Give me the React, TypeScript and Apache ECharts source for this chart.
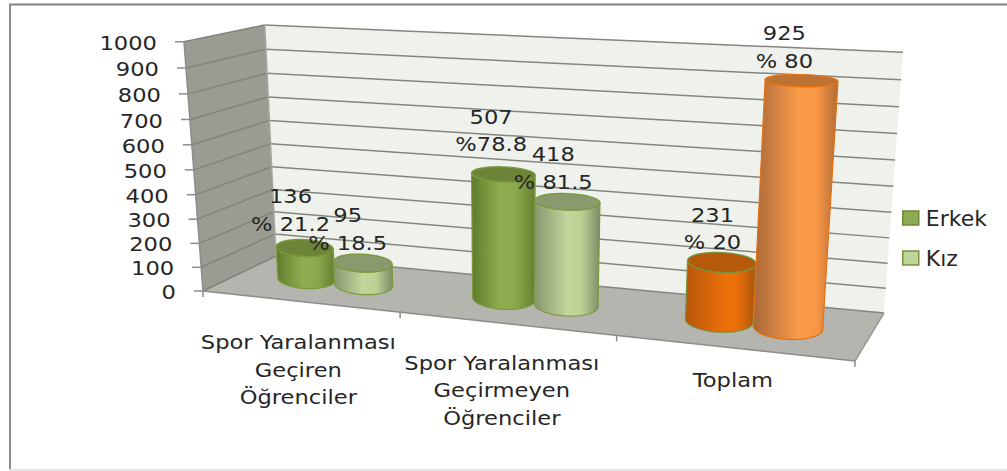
import React, { useEffect, useRef } from "react";
import * as echarts from "echarts";

const categories = ["Spor Yaralanması\nGeçiren\nÖğrenciler", "Spor Yaralanması\nGeçirmeyen\nÖğrenciler", "Toplam"];
const erkekValues = [136, 507, 231];
const kizValues = [95, 418, 925];
const erkekPercents = ["% 21.2", "%78.8", "% 20"];
const kizPercents = ["% 18.5", "% 81.5", "% 80"];
const yTicks = [0, 100, 200, 300, 400, 500, 600, 700, 800, 900, 1000];

// ---- styling / projection only ----
const W = 1007, H = 471;
const FONT = "DejaVu Sans";
const FS = 20;
const SX = 1.13;
const TEXT = "#262626";
const G = { left: 200, top: 40, width: 600, height: 250 };
const FL = [203, 291], FR = [855, 361], BR = [884, 313], BL = [276, 256];
const LEAN = { fl: -0.0763, fr: 0.0672, br: 0.0728, bl: -0.0488 };
const BAR_U = 0.05, RING_D = 0.25;
const LABEL_OFFSET: Record<string, number[][]> = {
  Erkek: [[-14, -4], [-12, -10], [-9, 0]],
  Kiz: [[-15, 0], [-14, 0], [-17, 0]],
};
const CAT_LABEL_DX = [-1, -4, 0];
const CAT_LABEL_DY = [41, 39, 32];
const grad = (c: string[][]) =>
  new echarts.graphic.LinearGradient(0, 0, 1, 0, c.map((x) => ({ offset: +x[0], color: x[1] })));
const STYLES: any = {
  greenDark: { body: [["0", "#5f7b2c"], ["0.45", "#8fae50"], ["0.7", "#8aa94d"], ["1", "#66802f"]], cap: "#6b8438", stroke: "#7a9a3e" },
  greenLight: { body: [["0", "#88976f"], ["0.5", "#c3d69b"], ["0.72", "#bcd094"], ["1", "#7e8c68"]], cap: "#8a9a6e", stroke: "#7a9a3e" },
  orangeDark: { body: [["0", "#b8560a"], ["0.6", "#ee7209"], ["0.75", "#e86e0a"], ["1", "#a8540f"]], cap: "#b45a0a", stroke: "#76923c" },
  orangeLight: { body: [["0", "#a8683a"], ["0.55", "#fb9c48"], ["0.75", "#f99745"], ["1", "#b06c38"]], cap: "#bb7233", stroke: "#e8700f" },
};
const BAR_STYLE: Record<string, string[]> = {
  Erkek: ["greenDark", "greenDark", "orangeDark"],
  Kiz: ["greenLight", "greenLight", "orangeLight"],
};

// floor homography from unit square (u along front, d into depth)
const dx1 = FR[0] - BR[0], dx2 = BL[0] - BR[0], sx = FL[0] - FR[0] + BR[0] - BL[0];
const dy1 = FR[1] - BR[1], dy2 = BL[1] - BR[1], sy = FL[1] - FR[1] + BR[1] - BL[1];
const den = dx1 * dy2 - dx2 * dy1;
const hg = (sx * dy2 - dx2 * sy) / den, hh = (dx1 * sy - sx * dy1) / den;
const warp = (u: number) => u + 0.05 * u * (1 - u);
function floorPt(u0: number, d: number) {
  const u = warp(u0);
  const w = hg * u + hh * d + 1;
  return [
    ((FR[0] - FL[0] + hg * FR[0]) * u + (BL[0] - FL[0] + hh * BL[0]) * d + FL[0]) / w,
    ((FR[1] - FL[1] + hg * FR[1]) * u + (BL[1] - FL[1] + hh * BL[1]) * d + FL[1]) / w,
  ];
}
function raise(p: number[], u0: number, d: number, v: number) {
  const u = warp(u0);
  const h = 231 + 0.52 * (p[1] - 256);
  const f = v - 0.056 * v * (1 - v);
  const rise = h * f;
  const lean =
    LEAN.fl * (1 - u) * (1 - d) + LEAN.fr * u * (1 - d) + LEAN.br * u * d + LEAN.bl * (1 - u) * d;
  return [p[0] + lean * rise, p[1] - rise];
}
const project = (u0: number, d: number, v: number) => raise(floorPt(u0, d), u0, d, v);
const normX = (px: number) => (px - G.left) / G.width;
const normY = (py: number) => (G.top + G.height - py) / G.height;

const label = (text: string, x: number, y: number, align = "center") => ({
  type: "text", x, y, scaleX: SX,
  style: { text, x: 0, y: 0, align, verticalAlign: "middle", fill: TEXT, font: `${FS}px '${FONT}'` },
});

function renderFrame(_p: any, api: any) {
  const vOf = (t: number) => normY(api.coord([0, t])[1]);
  const kids: any[] = [];
  const poly = (pts: number[][], fill: string) => ({ type: "polygon", shape: { points: pts }, style: { fill, stroke: "none" } });
  const line = (a: number[], b: number[], stroke: string, w = 1.5) => ({
    type: "line", shape: { x1: a[0], y1: a[1], x2: b[0], y2: b[1] }, style: { stroke, lineWidth: w },
  });
  kids.push(poly([project(0, 0, 0), project(0, 0, 1), project(0, 1, 1), project(0, 1, 0)], "#9a9c94"));
  kids.push(poly([project(0, 1, 0), project(0, 1, 1), project(1, 1, 1), project(1, 1, 0)], "#eff2ec"));
  kids.push(poly([project(0, 0, 0), project(1, 0, 0), project(1, 1, 0), project(0, 1, 0)], "#b3b5ae"));
  yTicks.forEach((t) => {
    const v = vOf(t);
    const a = project(0, 0, v), b = project(0, 1, v), c = project(1, 1, v);
    kids.push(line([a[0] - 9, a[1]], a, "#8c8c8c"));
    kids.push(line(a, b, "#82837c"));
    kids.push(line(b, c, "#85857f"));
    kids.push(label(String(t), a[0] - 27, a[1] + 1, "right"));
  });
  kids.push(line(project(0, 0, 0), project(0, 0, 1), "#8c8c8c"));
  kids.push(line(project(0, 1, 0), project(0, 1, 1), "#a5a6a0"));
  kids.push(line(project(0, 0, 0), project(1, 0, 0), "#8c8c8c"));
  kids.push(line(project(1, 0, 0), project(1, 1, 0), "#9a9b95"));
  [0, 1, 2, 3].forEach((i) => {
    const a = project(i / categories.length, 0, 0);
    kids.push(line(a, [a[0], a[1] + 6], "#8c8c8c"));
  });
  categories.forEach((c, i) => {
    const a = project((i + 0.5) / categories.length, 0, 0);
    c.split("\n").forEach((t, k) => {
      kids.push(label(t, a[0] + CAT_LABEL_DX[i], a[1] + CAT_LABEL_DY[i] + k * 27.5));
    });
  });
  return { type: "group", children: kids };
}

const makeBarRender = (key: string, shift: number) => (p: any, api: any) => {
  const c = api.coord([api.value(0), api.value(1)]);
  const u = normX(c[0]) + shift, v = normY(c[1]);
  const st = STYLES[BAR_STYLE[key][p.dataIndex]];
  const mid = floorPt(u, 0.5);
  const ring = (val: number, from: number, to: number, n: number) => {
    const out: number[][] = [];
    for (let k = 0; k <= n; k++) {
      const th = from + ((to - from) * k) / n;
      const uu = u + BAR_U * Math.cos(th), dd = 0.5 + RING_D * Math.sin(th);
      const along = floorPt(uu, 0.5), across = floorPt(u, dd);
      // ellipses stay level: depth moves y only, and the floor's slope only half tilts them
      const base = [along[0], mid[1] + (along[1] - mid[1]) * 0.5 + (across[1] - mid[1])];
      out.push(raise(base, u, 0.5, val));
      out[out.length - 1][0] = raise(base, uu, 0.5, val)[0];
    }
    return out;
  };
  const front = ring(0, Math.PI, 2 * Math.PI, 24);
  const topBack = ring(v, 2 * Math.PI, Math.PI, 24);
  return {
    type: "group",
    children: [
      { type: "polygon", shape: { points: front.concat(topBack) }, style: { fill: grad(st.body), stroke: st.stroke, lineWidth: 1.2 } },
      { type: "polygon", shape: { points: ring(v, 0, 2 * Math.PI, 48) }, style: { fill: st.cap, stroke: st.stroke, lineWidth: 1.4 } },
    ],
  };
};

const makeLabelRender = (key: string, shift: number, pcts: string[]) => (p: any, api: any) => {
  const c = api.coord([api.value(0), api.value(1)]);
  const top = project(normX(c[0]) + shift, 0.5, normY(c[1]));
  const off = LABEL_OFFSET[key][p.dataIndex];
  const x = top[0] + off[0], y = top[1] - 47.5 + off[1];
  return {
    type: "group",
    children: [label(String(api.value(1)), x, y), label(pcts[p.dataIndex], x, y + 27.5)],
  };
};

export default function App() {
  const ref = useRef<HTMLDivElement>(null);
  useEffect(() => {
    const chart = echarts.init(ref.current!, null, { renderer: "svg" });
    const toData = (a: number[]) => a.map((v, i) => [i, v]);
    const custom = (name: string, z: number, data: any[], renderItem: any) => ({
      type: "custom", name, z, data, renderItem, clip: false, silent: true, encode: { x: 0, y: 1 },
    });
    chart.setOption({
      animation: false,
      backgroundColor: "#ffffff",
      grid: { ...G },
      xAxis: { type: "category", data: categories, show: false },
      yAxis: { type: "value", min: 0, max: 1000, interval: 100, show: false },
      legend: {
        orient: "vertical", left: 902, top: 207, padding: 0, itemWidth: 16, itemHeight: 14, itemGap: 18, selectedMode: false,
        textStyle: { fontFamily: FONT, fontSize: 22, color: TEXT, padding: [0, 0, 0, 2] },
        data: [
          { name: "Erkek", icon: "rect", itemStyle: { color: "#8dab50", borderColor: "#6f8a3a", borderWidth: 1.5 } },
          { name: "Kız", icon: "rect", itemStyle: { color: "#bfd49a", borderColor: "#76923c", borderWidth: 1.5 } },
        ],
      },
      graphic: [
        { type: "line", shape: { x1: 9, y1: 4.5, x2: 1007, y2: 4.5 }, style: { stroke: "#808080", lineWidth: 2 } },
        { type: "line", shape: { x1: 10, y1: 4, x2: 10, y2: 469 }, style: { stroke: "#8c8c8c", lineWidth: 2 } },
        { type: "line", shape: { x1: 9, y1: 470, x2: 1007, y2: 470 }, style: { stroke: "#e4e4e4", lineWidth: 2 } },
      ],
      series: [
        custom("frame", 1, [[0, 0]], renderFrame),
        custom("Erkek", 2, toData(erkekValues), makeBarRender("Erkek", -BAR_U)),
        custom("Kız", 3, toData(kizValues), makeBarRender("Kiz", BAR_U)),
        custom("ErkekLabels", 5, toData(erkekValues), makeLabelRender("Erkek", -BAR_U, erkekPercents)),
        custom("KizLabels", 5, toData(kizValues), makeLabelRender("Kiz", BAR_U, kizPercents)),
      ],
    });
    return () => chart.dispose();
  }, []);
  return <div ref={ref} style={{ position: "absolute", left: 0, top: 0, width: W, height: H }} />;
}
